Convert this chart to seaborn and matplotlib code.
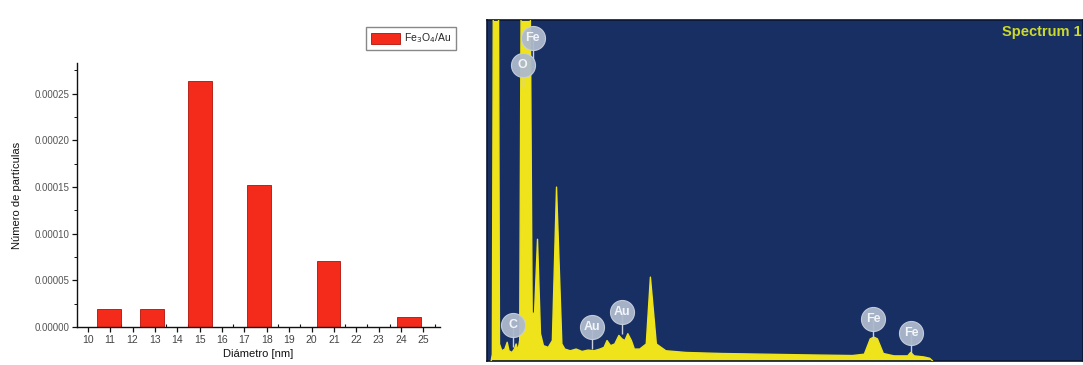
import numpy as np
import pandas as pd
import matplotlib
matplotlib.use("Agg")
import matplotlib.pyplot as plt
from matplotlib.ticker import FixedLocator, MultipleLocator, FormatStrFormatter
import seaborn as sns

# ---------------- data: size histogram (left) ----------------
diameter_nm = [10.96, 12.86, 15.02, 17.66, 20.76, 24.37]
particle_fraction = [0.000019, 0.0000197, 0.000264, 0.000152, 0.0000709, 0.0000107]
x_ticks = list(range(10, 26))
y_ticks = [0.0, 0.00005, 0.00010, 0.00015, 0.00020, 0.00025]
series_label = "Fe$_3$O$_4$/Au"
x_title = "Diámetro [nm]"
y_title = "Número de partículas"

# ---------------- data: EDS spectrum (right) ----------------
energy_kev = [-0.08, -0.06, -0.04, 0.04, 0.06, 0.10, 0.15, 0.19, 0.22, 0.27, 0.31, 0.34,
              0.37, 0.40, 0.43, 0.57, 0.61, 0.65, 0.70, 0.75, 0.80, 0.88, 0.95, 1.02,
              1.11, 1.16, 1.25, 1.35, 1.45, 1.55, 1.65, 1.75, 1.82, 1.87, 1.93, 2.00,
              2.07, 2.12, 2.17, 2.22, 2.28, 2.33, 2.42, 2.53, 2.60, 2.70, 2.78, 2.86,
              3.20, 3.80, 4.50, 5.20, 6.00, 6.20, 6.30, 6.36, 6.42, 6.52, 6.70, 6.93,
              6.98, 7.04, 7.20, 7.30, 7.35]
counts = [0.0, 2.0, 130.0, 130.0, 5.0, 3.0, 3.5, 5.5, 3.0, 2.5, 3.5, 5.0,
          3.0, 6.0, 130.0, 130.0, 14.0, 14.0, 35.7, 8.0, 4.5, 4.0, 6.0, 51.0,
          5.0, 3.5, 3.0, 3.5, 2.8, 3.2, 3.0, 3.5, 4.0, 6.0, 4.5, 5.0,
          7.5, 6.5, 6.0, 8.0, 6.0, 3.5, 3.5, 5.0, 24.6, 5.0, 4.0, 3.0,
          2.5, 2.2, 2.0, 1.8, 1.6, 2.0, 6.5, 7.0, 6.5, 2.2, 1.5, 1.5,
          2.5, 1.5, 1.2, 0.8, 0.0]
peak_labels = ["Fe", "O", "C", "Au", "Au", "Fe", "Fe"]
label_kev = [0.62, 0.45, 0.29, 1.62, 2.12, 6.35, 6.99]
label_counts = [94.7, 86.8, 10.6, 10.0, 14.4, 12.3, 8.2]
spectrum_title = "Spectrum 1"

# ---------------- style ----------------
sns.set_theme(style="ticks")
plt.rcParams["font.family"] = ["Liberation Sans", "DejaVu Sans"]

W, H = 1083, 365
fig = plt.figure(figsize=(W / 100, H / 100), dpi=100)
fig.patch.set_facecolor("white")

# ---------------- left panel ----------------
axL = fig.add_axes([77 / W, 1 - 327 / H, (440 - 77) / W, (327 - 63) / H])
df = pd.DataFrame({"d": diameter_nm, "n": particle_fraction})
min_gap = np.min(np.diff(sorted(diameter_nm)))
sns.barplot(data=df, x="d", y="n", native_scale=True, width=1.06 / min_gap,
            color="#f42a1b", edgecolor="#b01208", linewidth=0.6, saturation=1,
            label=series_label, ax=axL)
if axL.get_legend() is not None:
    axL.get_legend().remove()
axL.set_xlim(9.52, 25.74)
axL.set_ylim(0, 0.000283)
axL.xaxis.set_major_locator(FixedLocator(x_ticks))
axL.set_xticklabels([str(t) for t in x_ticks])
axL.xaxis.set_minor_locator(MultipleLocator(0.5))
axL.yaxis.set_major_locator(FixedLocator(y_ticks))
axL.yaxis.set_major_formatter(FormatStrFormatter("%.5f"))
axL.yaxis.set_minor_locator(MultipleLocator(0.000025))
for s in ["top", "right"]:
    axL.spines[s].set_visible(False)
for s in ["left", "bottom"]:
    axL.spines[s].set_color("#111111")
    axL.spines[s].set_linewidth(1.0)
axL.tick_params(axis="x", which="major", direction="out", length=3.5, width=0.9,
                labelsize=7.5, labelcolor="#444444", color="#111111", pad=2)
axL.tick_params(axis="x", which="minor", direction="in", length=2, width=0.8, color="#111111")
axL.tick_params(axis="y", which="major", direction="out", length=3.5, width=0.9,
                labelsize=7, labelcolor="#555555", color="#111111", pad=2)
axL.tick_params(axis="y", which="minor", direction="out", length=2, width=0.7, color="#111111")
axL.set_xlabel(x_title, fontsize=8, color="#111111", labelpad=3)
axL.set_ylabel(y_title, fontsize=8, color="#111111", labelpad=9)
axL.grid(False)

handles, labels = axL.get_legend_handles_labels()
fig.legend(handles, labels, loc="upper right", bbox_to_anchor=(456 / W, 1 - 27 / H),
           borderaxespad=0, fancybox=False, edgecolor="#888888", framealpha=1,
           fontsize=7.5, handlelength=2.8, handleheight=1.3, borderpad=0.45,
           handletextpad=0.4)

# ---------------- right panel ----------------
axR = fig.add_axes([487 / W, 1 - 361 / H, (W - 487) / W, (361 - 20) / H])
bg = "#172f63"
yellow = "#efe31c"
axR.set_facecolor(bg)
axR.fill_between(energy_kev, counts, 0, color=yellow, linewidth=0, zorder=2)
sns.lineplot(x=energy_kev, y=counts, sort=False, estimator=None, color=yellow,
             linewidth=1.0, ax=axR, zorder=3)
axR.vlines(label_kev, [c - 6.5 for c in label_counts], label_counts,
           color="#c9d1de", linewidth=1.0, zorder=4)
axR.scatter(label_kev, label_counts, s=300, color="#aeb9cc", alpha=0.95,
            edgecolor="#c8d0dd", linewidth=0.8, zorder=5)
for lab, xk, yc in zip(peak_labels, label_kev, label_counts):
    axR.text(xk, yc, lab, ha="center", va="center", color="#f2f5fa",
             fontsize=9, fontweight="bold", zorder=6)
axR.text(0.997, 0.985, spectrum_title, transform=axR.transAxes, ha="right", va="top",
         color="#cdd92a", fontsize=10.5, fontweight="bold", zorder=6)
axR.set_xlim(-0.15, 9.88)
axR.set_ylim(0, 100)
axR.set_xticks([])
axR.set_yticks([])
axR.set_xlabel("")
axR.set_ylabel("")
for s in axR.spines.values():
    s.set_color("#0b1530")
    s.set_linewidth(1.2)

fig.savefig("out.png", dpi=100, facecolor="white")
